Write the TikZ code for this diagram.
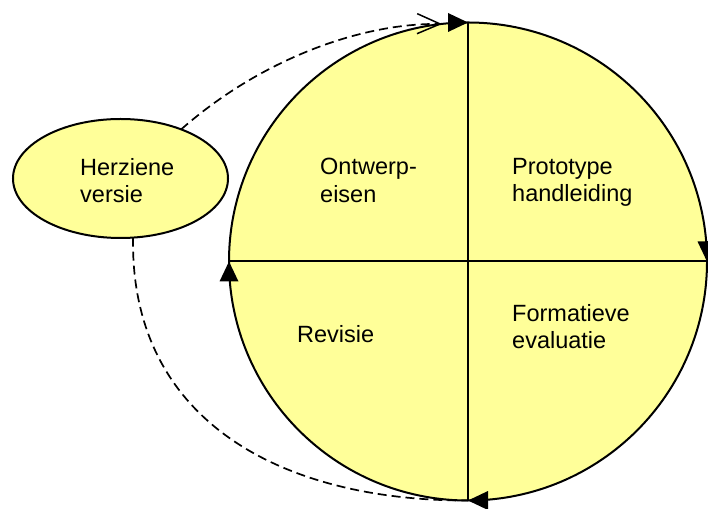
\documentclass[tikz,border=0pt]{standalone}
\usepackage{fontspec}
\setmainfont{Liberation Sans}
\usetikzlibrary{arrows.meta,shapes.geometric}
\definecolor{lightyel}{RGB}{255,255,153}
\begin{document}
\begin{tikzpicture}[x=1pt,y=1pt,
  shapeline/.style={draw=black,line width=2pt,fill=lightyel,inner sep=0pt,outer sep=0pt},
  divline/.style={draw=black,line width=2pt},
  tiparrow/.style={-{Triangle[length=20pt,width=19pt,line width=0pt]},line width=2pt},
  dashline/.style={draw=black,line width=1.7pt,dash pattern=on 9pt off 5pt},
  txt/.style={font=\fontsize{23.5}{27.5}\selectfont,align=left,inner sep=0pt,anchor=north west}]
\useasboundingbox (0,0) rectangle (708,508);
\clip (0,0) rectangle (708,508);
% cycle circle
\node[shapeline,circle,minimum size=478pt] (cyc) at (468,246.5) {};
\draw[divline] (cyc.north) -- (cyc.south);
\draw[divline] (cyc.west) -- (cyc.east);
% arrow tips on the circle (clockwise)
\coordinate (ntail) at ([xshift=-3pt]cyc.north);
\coordinate (etail) at ([yshift=3pt]cyc.east);
\coordinate (stail) at ([xshift=3pt]cyc.south);
\coordinate (wtail) at ([yshift=-3pt]cyc.west);
\draw[tiparrow] (ntail) -- (cyc.north);
\draw[tiparrow] (etail) -- (cyc.east);
\draw[tiparrow] (stail) -- (cyc.south);
\draw[tiparrow] (wtail) -- (cyc.west);
% ellipse
\node[shapeline,ellipse,minimum width=215pt,minimum height=119pt] (herz) at (120.5,329.5) {};
\node[txt] (herzt) at (80,350) {Herziene\\versie};
% quadrant texts
\node[txt] (ontw) at (320,350) {Ontwerp-\\eisen};
\node[txt] (proto) at (512,350) {Prototype\\handleiding};
\node[txt] (form) at (512,204) {Formatieve\\evaluatie};
\node[txt] (rev) at (297,183) {Revisie};
% dashed connectors
\coordinate (tend) at ([xshift=-26pt,yshift=-1.5pt]cyc.north);
\draw[dashline,-{Straight Barb[length=23pt,width=20pt,line width=1.5pt]}]
  (herz.39) .. controls (260,448) and (360,485) .. (tend);
\draw[dashline] (herz.-78) .. controls (130,88) and (280,7) .. (cyc.south);
\end{tikzpicture}
\end{document}
